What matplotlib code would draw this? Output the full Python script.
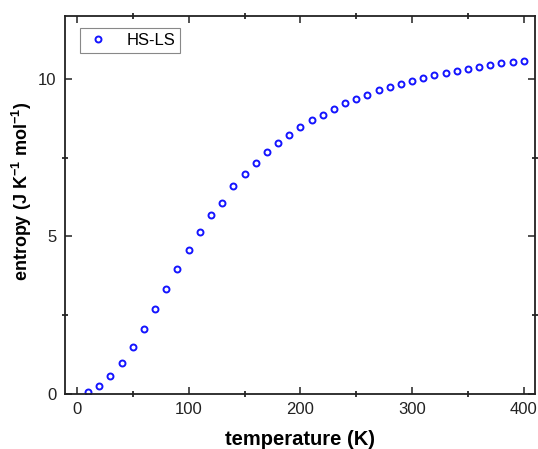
import matplotlib
matplotlib.use("Agg")
import matplotlib.pyplot as plt
from matplotlib.ticker import MultipleLocator

plt.rcParams['font.family'] = ['Liberation Sans', 'DejaVu Sans']
plt.rcParams['mathtext.fontset'] = 'custom'
plt.rcParams['mathtext.rm'] = 'Liberation Sans'
plt.rcParams['mathtext.bf'] = 'Liberation Sans:bold'

# temperature (K) and entropy
temperature = [10, 20, 30, 40, 50, 60, 70, 80, 90, 100,
               110, 120, 130, 140, 150, 160, 170, 180, 190, 200,
               210, 220, 230, 240, 250, 260, 270, 280, 290, 300,
               310, 320, 330, 340, 350, 360, 370, 380, 390, 400]
entropy = [0.05, 0.245, 0.55, 0.965, 1.47, 2.06, 2.68, 3.33, 3.95, 4.58,
           5.14, 5.67, 6.05, 6.59, 6.99, 7.34, 7.67, 7.96, 8.23, 8.47,
           8.68, 8.87, 9.06, 9.22, 9.37, 9.50, 9.64, 9.75, 9.85, 9.94,
           10.04, 10.12, 10.19, 10.26, 10.33, 10.38, 10.44, 10.50, 10.54, 10.58]
series_label = 'HS-LS'

fig = plt.figure(figsize=(5.38, 4.49), dpi=100)
ax = fig.add_axes([0.1208, 0.1232, 0.8736, 0.8412])

ax.plot(temperature, entropy, linestyle='none', marker='o', markersize=4.3,
        markerfacecolor='none', markeredgecolor='#1414ff', markeredgewidth=1.4,
        label=series_label)

ax.set_xlim(-10.7, 410)
ax.set_ylim(0, 12)
ax.xaxis.set_major_locator(MultipleLocator(100))
ax.xaxis.set_minor_locator(MultipleLocator(50))
ax.yaxis.set_major_locator(MultipleLocator(5))
ax.yaxis.set_minor_locator(MultipleLocator(2.5))

ax.tick_params(which='major', direction='in', length=5, width=1.1,
               top=True, right=True, labelsize=12, pad=6, colors='#222222')
ax.tick_params(which='minor', direction='inout', length=5, width=1.1,
               top=True, right=True)
for s in ax.spines.values():
    s.set_linewidth(1.3)
    s.set_color('#222222')

ax.set_xlabel('temperature (K)', fontsize=14.5, fontweight='bold', labelpad=9)
ax.set_ylabel(r'entropy (J K$^{\mathbf{-1}}$ mol$^{\mathbf{-1}}$)', fontsize=13,
              fontweight='bold')
ax.yaxis.set_label_coords(-0.066, 0.535)

leg = ax.legend(loc='upper left', bbox_to_anchor=(0.032, 0.968), fontsize=12,
                fancybox=False, framealpha=1, edgecolor='#888888',
                handletextpad=1.0, handlelength=1.5, borderpad=0.3,
                borderaxespad=0)
leg.get_frame().set_linewidth(0.8)

fig.savefig('out.png', dpi=100)
